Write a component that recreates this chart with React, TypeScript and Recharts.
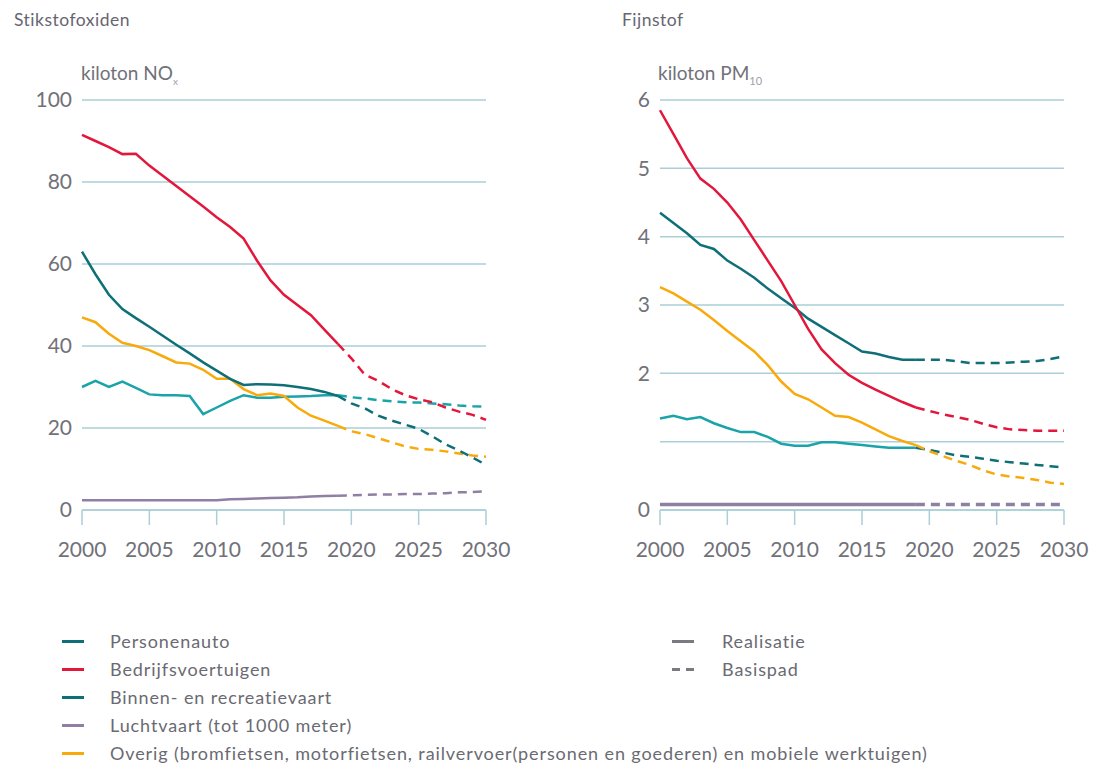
import React from "react"
import { CartesianGrid, Line, LineChart, XAxis, YAxis } from "recharts"

// jaren
const years = [
  2000, 2001, 2002, 2003, 2004, 2005, 2006, 2007, 2008, 2009, 2010,
  2011, 2012, 2013, 2014, 2015, 2016, 2017, 2018, 2019, 2020,
  2021, 2022, 2023, 2024, 2025, 2026, 2027, 2028, 2029, 2030,
]
const lastRealYear = 2019

// Stikstofoxiden (kiloton NOx)
const noxPersonenauto = [63, 57.5, 52.5, 49, 46.8, 44.7, 42.5, 40.3, 38.2, 36, 34, 32, 30.5, 30.7, 30.6, 30.4, 30, 29.5, 28.8, 27.8, 26, 24.8, 23, 21.8, 20.8, 19.8, 18, 16, 14.5, 12.8, 11]
const noxBedrijfs = [91.5, 90, 88.5, 86.8, 86.9, 84, 81.5, 79, 76.5, 74, 71.4, 69, 66.2, 60.8, 56, 52.5, 50, 47.5, 44, 40.5, 37, 33, 31.5, 29.5, 28, 27, 26.3, 25, 24, 23.2, 22]
const noxBinnenvaart = [30, 31.5, 30, 31.3, 29.8, 28.2, 28, 28, 27.8, 23.4, 25, 26.6, 28, 27.4, 27.4, 27.6, 27.7, 27.8, 28, 28, 27.5, 27.2, 26.8, 26.5, 26.3, 26.2, 26, 25.8, 25.5, 25.3, 25.2]
const noxLuchtvaart = [2.4, 2.4, 2.4, 2.4, 2.4, 2.4, 2.4, 2.4, 2.4, 2.4, 2.4, 2.6, 2.7, 2.8, 2.9, 3, 3.1, 3.3, 3.4, 3.5, 3.6, 3.7, 3.8, 3.8, 3.9, 3.9, 4, 4.1, 4.3, 4.4, 4.6]
const noxOverig = [47, 45.8, 43, 40.8, 40, 39, 37.5, 36, 35.7, 34.2, 32, 32, 29.5, 28, 28.4, 27.8, 25, 23, 21.8, 20.5, 19.2, 18.5, 17.5, 16.5, 15.5, 14.9, 14.7, 14.3, 13.8, 13.3, 13]

// Fijnstof (kiloton PM10)
const pmPersonenauto = [4.35, 4.2, 4.05, 3.88, 3.82, 3.65, 3.53, 3.4, 3.24, 3.1, 2.96, 2.8, 2.68, 2.56, 2.44, 2.32, 2.29, 2.24, 2.2, 2.2, 2.2, 2.2, 2.18, 2.15, 2.15, 2.15, 2.16, 2.17, 2.18, 2.21, 2.25]
const pmBedrijfs = [5.85, 5.5, 5.15, 4.85, 4.7, 4.5, 4.25, 3.95, 3.65, 3.35, 3, 2.65, 2.35, 2.15, 1.98, 1.86, 1.76, 1.67, 1.58, 1.5, 1.45, 1.4, 1.36, 1.32, 1.26, 1.21, 1.18, 1.17, 1.16, 1.16, 1.16]
const pmBinnenvaart = [1.34, 1.38, 1.33, 1.36, 1.27, 1.2, 1.14, 1.14, 1.07, 0.97, 0.94, 0.94, 0.99, 0.99, 0.97, 0.95, 0.93, 0.91, 0.91, 0.91, 0.88, 0.84, 0.8, 0.78, 0.75, 0.72, 0.7, 0.68, 0.66, 0.64, 0.62]
const pmLuchtvaart = [0.08, 0.08, 0.08, 0.08, 0.08, 0.08, 0.08, 0.08, 0.08, 0.08, 0.08, 0.08, 0.08, 0.08, 0.08, 0.08, 0.08, 0.08, 0.08, 0.08, 0.08, 0.08, 0.08, 0.08, 0.08, 0.08, 0.08, 0.08, 0.08, 0.08, 0.08]
const pmOverig = [3.26, 3.17, 3.05, 2.93, 2.78, 2.62, 2.47, 2.32, 2.12, 1.88, 1.7, 1.62, 1.5, 1.38, 1.36, 1.28, 1.18, 1.08, 1.01, 0.95, 0.86, 0.79, 0.72, 0.66, 0.58, 0.52, 0.49, 0.47, 0.44, 0.4, 0.38]

const xTicks = [2000, 2005, 2010, 2015, 2020, 2025, 2030]
const noxTicks = [0, 20, 40, 60, 80, 100]
const pmTicks = [0, 1, 2, 3, 4, 5, 6]

const DARK_TEAL = "#0f6f78"
const LIGHT_TEAL = "#1aa3a8"
const RED = "#e2173b"
const PURPLE = "#8e7fa3"
const ORANGE = "#f8aa0c"
const GRID = "#aacfd8"
const TEXT = "#717179"
const FONT = "Lato, 'Noto Sans', sans-serif"

const seriesKeys = ["pa", "bv", "bin", "lv", "ov"]

function buildRows(series: number[][]) {
  return years.map((year, i) => {
    const row: Record<string, number | null> = { year }
    series.forEach((vals, s) => {
      const k = seriesKeys[s]
      row[k] = year <= lastRealYear ? vals[i] : null
      row[k + "_f"] = year >= lastRealYear ? vals[i] : null
    })
    return row
  })
}

const noxRows = buildRows([noxPersonenauto, noxBedrijfs, noxBinnenvaart, noxLuchtvaart, noxOverig])
const pmRows = buildRows([pmPersonenauto, pmBedrijfs, pmBinnenvaart, pmLuchtvaart, pmOverig])

const legendItems = [
  { label: "Personenauto", color: DARK_TEAL },
  { label: "Bedrijfsvoertuigen", color: RED },
  { label: "Binnen- en recreatievaart", color: DARK_TEAL },
  { label: "Luchtvaart (tot 1000 meter)", color: PURPLE },
  { label: "Overig (bromfietsen, motorfietsen, railvervoer(personen en goederen) en mobiele werktuigen)", color: ORANGE },
]

function Panel({ rows, ticks, max, binForecast, lvWidth, fmt }: {
  rows: Record<string, number | null>[]
  ticks: number[]
  max: number
  binForecast: string
  lvWidth: number
  fmt: (v: number) => string
}) {
  const lines = [
    { k: "lv", c: PURPLE, cf: PURPLE, w: lvWidth },
    { k: "bin", c: LIGHT_TEAL, cf: binForecast, w: 2.5 },
    { k: "ov", c: ORANGE, cf: ORANGE, w: 2.5 },
    { k: "pa", c: DARK_TEAL, cf: DARK_TEAL, w: 2.5 },
    { k: "bv", c: RED, cf: RED, w: 2.5 },
  ]
  return (
    <LineChart width={520} height={600} data={rows} margin={{ top: 100, right: 34, bottom: 0, left: 0 }}>
      <CartesianGrid horizontal={true} vertical={false} stroke={GRID} strokeWidth={1.5} />
      <XAxis
        dataKey="year"
        type="number"
        domain={[2000, 2030]}
        ticks={xTicks}
        height={90}
        tickSize={15}
        tickMargin={17}
        stroke={GRID}
        strokeWidth={1.5}
        tick={{ fill: TEXT, fontSize: 21, fontFamily: FONT }}
      />
      <YAxis
        type="number"
        domain={[0, max]}
        ticks={ticks}
        width={82}
        axisLine={false}
        tickLine={false}
        tickSize={0}
        tickMargin={10}
        tickFormatter={fmt}
        tick={{ fill: TEXT, fontSize: 21, fontFamily: FONT }}
      />
      {lines.map((l) => (
        <Line key={l.k} dataKey={l.k} stroke={l.c} strokeWidth={l.w} dot={false} isAnimationActive={false} connectNulls={false} />
      ))}
      {lines.map((l) => (
        <Line key={l.k + "_f"} dataKey={l.k + "_f"} stroke={l.cf} strokeWidth={l.w} strokeDasharray="9 6" dot={false} isAnimationActive={false} connectNulls={false} />
      ))}
    </LineChart>
  )
}

export default function App() {
  const abs = (left: number, top: number): React.CSSProperties => ({ position: "absolute", left, top })
  const titleStyle: React.CSSProperties = { fontSize: 17.5, letterSpacing: 0.5, color: "#666670", fontFamily: FONT, whiteSpace: "nowrap" }
  const unitStyle: React.CSSProperties = { fontSize: 19, color: "#717179", fontFamily: FONT, whiteSpace: "nowrap" }
  const legendText: React.CSSProperties = { fontSize: 18, letterSpacing: 0.9, color: "#6a6a72", fontFamily: FONT, whiteSpace: "nowrap", lineHeight: "20px" }
  return (
    <div style={{ position: "absolute", left: 0, top: 0, width: 1094, height: 768, background: "#fff", overflow: "hidden" }}>
      <div style={{ ...abs(14, 9), ...titleStyle }}>Stikstofoxiden</div>
      <div style={{ ...abs(622, 9), ...titleStyle }}>Fijnstof</div>
      <div style={{ ...abs(81, 61), ...unitStyle }}>
        kiloton NO<sub style={{ fontSize: 10, color: "#a0a0a8" }}>x</sub>
      </div>
      <div style={{ ...abs(658, 61), ...unitStyle }}>
        kiloton PM<sub style={{ fontSize: 11, color: "#a0a0a8" }}>10</sub>
      </div>
      <div style={abs(0, 0)}>
        <Panel rows={noxRows} ticks={noxTicks} max={100} binForecast={LIGHT_TEAL} lvWidth={2.5} fmt={(v) => String(v)} />
      </div>
      <div style={abs(578, 0)}>
        <Panel rows={pmRows} ticks={pmTicks} max={6} binForecast={DARK_TEAL} lvWidth={3.5} fmt={(v) => (v === 1 ? "" : String(v))} />
      </div>
      {legendItems.map((it, i) => (
        <div key={it.label} style={abs(62, 631 + i * 28)}>
          <div style={{ position: "absolute", left: 0, top: 9, width: 22, height: 3, background: it.color }} />
          <div style={{ position: "absolute", left: 48, top: 0, ...legendText }}>{it.label}</div>
        </div>
      ))}
      <div style={abs(672, 631)}>
        <div style={{ position: "absolute", left: 0, top: 9, width: 22, height: 3, background: "#7a7a80" }} />
        <div style={{ position: "absolute", left: 50, top: 0, ...legendText }}>Realisatie</div>
      </div>
      <div style={abs(672, 659)}>
        <div style={{ position: "absolute", left: 0, top: 9, width: 8, height: 3, background: "#7a7a80" }} />
        <div style={{ position: "absolute", left: 14, top: 9, width: 8, height: 3, background: "#7a7a80" }} />
        <div style={{ position: "absolute", left: 50, top: 0, ...legendText }}>Basispad</div>
      </div>
    </div>
  )
}
